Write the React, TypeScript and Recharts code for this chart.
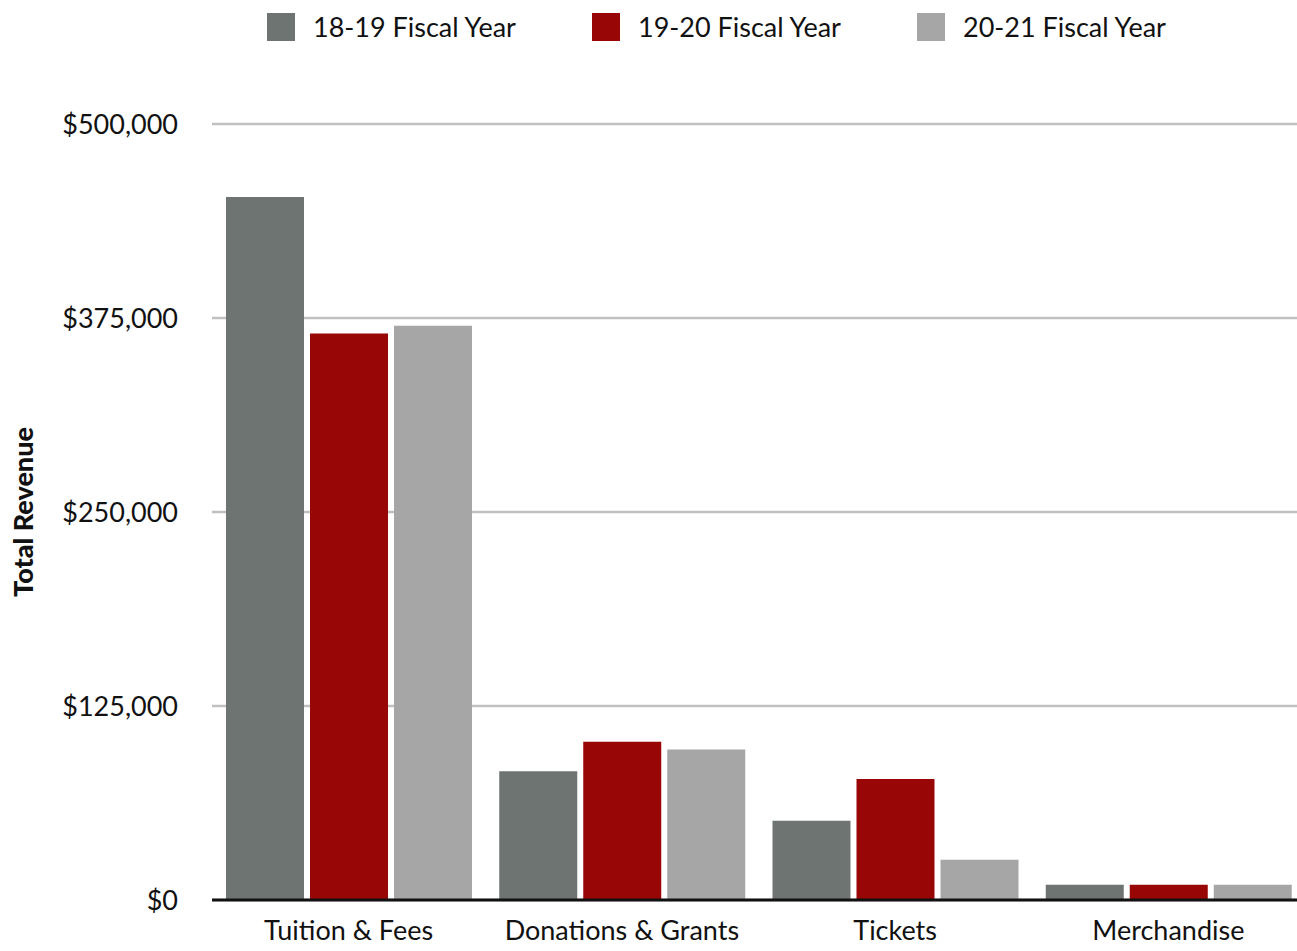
import React from "react";
import {
  BarChart,
  Bar,
  XAxis,
  YAxis,
  CartesianGrid,
  Label,
} from "recharts";

// Revenue by source, three fiscal years
const categories = ["Tuition & Fees", "Donations & Grants", "Tickets", "Merchandise"];
const fy1819 = [453000, 83000, 51000, 9800];
const fy1920 = [365000, 102000, 78000, 9800];
const fy2021 = [370000, 97000, 26000, 9800];
const yTicks = [0, 125000, 250000, 375000, 500000];

const SERIES = [
  { key: "fy1819", label: "18-19 Fiscal Year", color: "#6e7471" },
  { key: "fy1920", label: "19-20 Fiscal Year", color: "#990606" },
  { key: "fy2021", label: "20-21 Fiscal Year", color: "#a6a6a6" },
];

const FONT = "Lato, 'Open Sans', sans-serif";

const data = categories.map((name, i) => ({
  name,
  fy1819: fy1819[i],
  fy1920: fy1920[i],
  fy2021: fy2021[i],
}));

const formatMoney = (v: number) => "$" + v.toLocaleString("en-US");

const AxisTitle = ({ viewBox }: any) => {
  const cy = viewBox.y + viewBox.height / 2;
  return (
    <text
      x={22}
      y={cy}
      transform={`rotate(-90, 22, ${cy})`}
      textAnchor="middle"
      dominantBaseline="central"
      fontFamily={FONT}
      fontWeight={900}
      fontSize={27}
      fill="#111"
    >
      Total Revenue
    </text>
  );
};

export default function App() {
  return (
    <div
      style={{
        position: "absolute",
        left: 0,
        top: 0,
        width: 1297,
        height: 951,
        overflow: "hidden",
        background: "#fff",
        fontFamily: FONT,
      }}
    >
      {/* legend */}
      <div
        style={{
          position: "absolute",
          top: 10,
          left: 267,
          display: "flex",
          zIndex: 2,
        }}
      >
        {SERIES.map((s) => (
          <div
            key={s.key}
            style={{ width: 325, display: "flex", alignItems: "center" }}
          >
            <span
              style={{
                display: "inline-block",
                width: 28,
                height: 28,
                background: s.color,
                marginRight: 18,
              }}
            />
            <span style={{ fontSize: 27, color: "#111" }}>{s.label}</span>
          </div>
        ))}
      </div>

      <BarChart
        width={1305}
        height={951}
        data={data}
        margin={{ top: 124, right: 0, left: 0, bottom: 7 }}
        barCategoryGap={14}
        barGap={6}
      >
        <CartesianGrid
          vertical={false}
          stroke="#c0c0c0"
          strokeWidth={2.5}
        />
        <XAxis
          dataKey="name"
          height={44}
          tickLine={false}
          axisLine={{ stroke: "#111", strokeWidth: 3 }}
          tickMargin={15}
          tick={{ fontSize: 27, fill: "#111", fontFamily: FONT }}
          interval={0}
        />
        <YAxis
          width={212}
          domain={[0, 500000]}
          ticks={yTicks}
          tickFormatter={formatMoney}
          axisLine={false}
          tickLine={false}
          tickMargin={28}
          tick={{ fontSize: 27, fill: "#111", fontFamily: FONT }}
        >
          <Label content={AxisTitle} />
        </YAxis>
        {SERIES.map((s) => (
          <Bar
            key={s.key}
            dataKey={s.key}
            fill={s.color}
            isAnimationActive={false}
          />
        ))}
      </BarChart>
    </div>
  );
}
